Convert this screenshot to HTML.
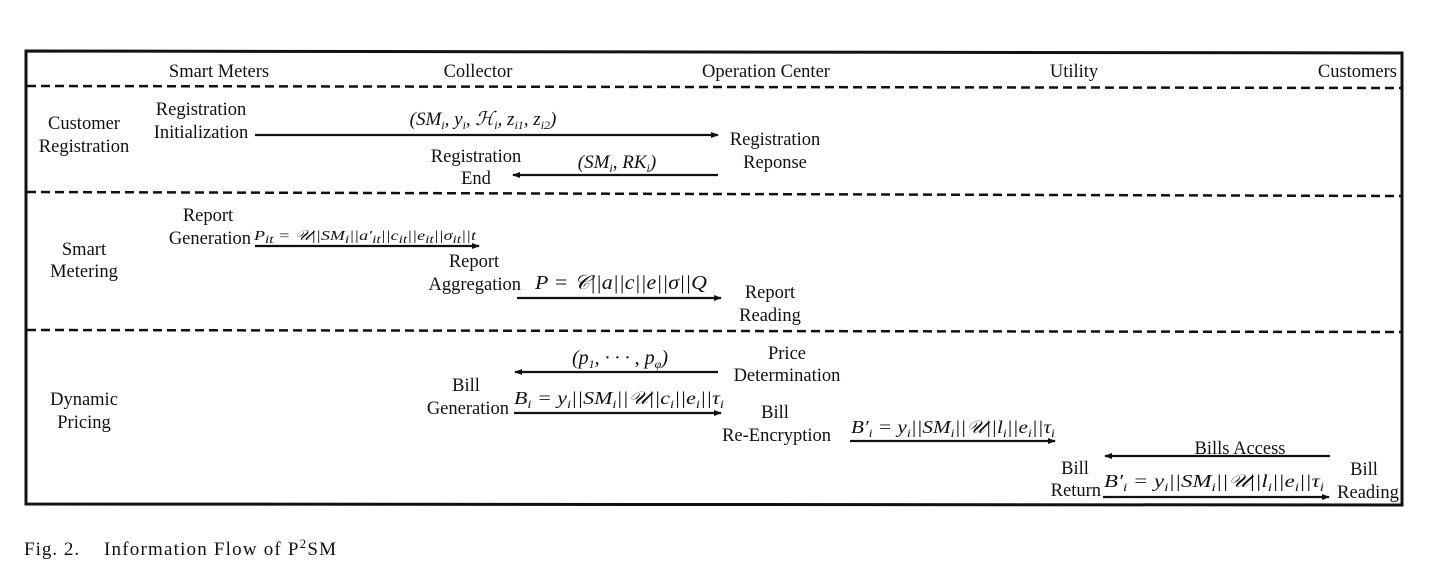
<!DOCTYPE html>
<html><head><meta charset="utf-8"><style>
html,body{margin:0;padding:0;background:#fff;}
svg{display:block;}
text{font-family:"Liberation Serif",serif;font-size:18.5px;fill:#111;}
.m{font-style:italic;font-size:18px;}
.s{font-size:12px;}
</style></head><body>
<svg width="1429" height="574" viewBox="0 0 1429 574" xmlns="http://www.w3.org/2000/svg">
<defs><marker id="a" markerWidth="8" markerHeight="8" refX="7" refY="4" orient="auto" markerUnits="userSpaceOnUse"><path d="M0,1 L8,4 L0,7 z" fill="#111"/></marker></defs>
<path d="M26,51 L1402,53 L1402,505 L26,504 Z" fill="none" stroke="#111" stroke-width="3"/>
<g stroke="#111" stroke-width="2.5" stroke-dasharray="9,5">
<line x1="27" y1="86" x2="1401" y2="88"/>
<line x1="27" y1="192" x2="1401" y2="196"/>
<line x1="27" y1="330" x2="1401" y2="332"/>
</g>
<text x="219" y="77" text-anchor="middle">Smart Meters</text>
<text x="478" y="77" text-anchor="middle">Collector</text>
<text x="766" y="77" text-anchor="middle">Operation Center</text>
<text x="1074" y="77" text-anchor="middle">Utility</text>
<text x="1397" y="77" text-anchor="end">Customers</text>
<text x="84" y="129" text-anchor="middle">Customer</text>
<text x="84" y="152" text-anchor="middle">Registration</text>
<text x="84" y="255" text-anchor="middle">Smart</text>
<text x="84" y="277" text-anchor="middle">Metering</text>
<text x="84" y="405" text-anchor="middle">Dynamic</text>
<text x="84" y="428" text-anchor="middle">Pricing</text>
<g stroke="#111" stroke-width="2.2" marker-end="url(#a)">
<line x1="255" y1="135" x2="718" y2="135"/>
<line x1="718" y1="175" x2="513" y2="175"/>
<line x1="255" y1="246" x2="479" y2="246"/>
<line x1="517" y1="298" x2="721" y2="298"/>
<line x1="718" y1="372" x2="515" y2="372"/>
<line x1="514" y1="413" x2="721" y2="413"/>
<line x1="850" y1="441" x2="1055" y2="441"/>
<line x1="1330" y1="456" x2="1105" y2="456"/>
<line x1="1103" y1="497" x2="1329" y2="497"/>
</g>
<text x="201" y="115" text-anchor="middle">Registration</text>
<text x="201" y="138" text-anchor="middle">Initialization</text>
<text x="483" y="125" text-anchor="middle" class="m" style="font-size:19px">(SM<tspan class="s" dy="4">i</tspan><tspan dy="-4">, y</tspan><tspan class="s" dy="4">i</tspan><tspan dy="-4">, ℋ</tspan><tspan class="s" dy="4">i</tspan><tspan dy="-4">, z</tspan><tspan class="s" dy="4">i1</tspan><tspan dy="-4">, z</tspan><tspan class="s" dy="4">i2</tspan><tspan dy="-4">)</tspan></text>
<text x="775" y="145" text-anchor="middle">Registration</text>
<text x="775" y="168" text-anchor="middle">Reponse</text>
<text x="476" y="162" text-anchor="middle">Registration</text>
<text x="476" y="184" text-anchor="middle">End</text>
<text x="617" y="168" text-anchor="middle" class="m" style="font-size:19px">(SM<tspan class="s" dy="4">i</tspan><tspan dy="-4">, RK</tspan><tspan class="s" dy="4">i</tspan><tspan dy="-4">)</tspan></text>
<text x="208" y="221" text-anchor="middle">Report</text>
<text x="251" y="244" text-anchor="end">Generation</text>
<text x="254" y="240" class="m" style="font-size:14px" textLength="222" lengthAdjust="spacingAndGlyphs">P<tspan class="s" dy="3">it</tspan><tspan dy="-3"> = 𝒰||SM</tspan><tspan class="s" dy="3">i</tspan><tspan dy="-3">||a′</tspan><tspan class="s" dy="3">it</tspan><tspan dy="-3">||c</tspan><tspan class="s" dy="3">it</tspan><tspan dy="-3">||e</tspan><tspan class="s" dy="3">it</tspan><tspan dy="-3">||σ</tspan><tspan class="s" dy="3">it</tspan><tspan dy="-3">||t</tspan></text>
<text x="474" y="267" text-anchor="middle">Report</text>
<text x="521" y="290" text-anchor="end">Aggregation</text>
<text x="535" y="289" class="m" style="font-size:20px" textLength="172" lengthAdjust="spacingAndGlyphs">P = 𝒞||a||c||e||σ||Q</text>
<text x="770" y="298" text-anchor="middle">Report</text>
<text x="770" y="321" text-anchor="middle">Reading</text>
<text x="787" y="359" text-anchor="middle">Price</text>
<text x="787" y="381" text-anchor="middle">Determination</text>
<text x="620" y="364" text-anchor="middle" class="m" style="font-size:20px">(p<tspan class="s" dy="4">1</tspan><tspan dy="-4">, · · · , p</tspan><tspan class="s" dy="4">φ</tspan><tspan dy="-4">)</tspan></text>
<text x="466" y="391" text-anchor="middle">Bill</text>
<text x="509" y="414" text-anchor="end">Generation</text>
<text x="514" y="404" class="m" textLength="210" lengthAdjust="spacingAndGlyphs">B<tspan class="s" dy="4">i</tspan><tspan dy="-4"> = y</tspan><tspan class="s" dy="4">i</tspan><tspan dy="-4">||SM</tspan><tspan class="s" dy="4">i</tspan><tspan dy="-4">||𝒰||c</tspan><tspan class="s" dy="4">i</tspan><tspan dy="-4">||e</tspan><tspan class="s" dy="4">i</tspan><tspan dy="-4">||τ</tspan><tspan class="s" dy="4">i</tspan></text>
<text x="775" y="418" text-anchor="middle">Bill</text>
<text x="831" y="441" text-anchor="end">Re-Encryption</text>
<text x="851" y="433" class="m" textLength="204" lengthAdjust="spacingAndGlyphs">B′<tspan class="s" dy="4">i</tspan><tspan dy="-4"> = y</tspan><tspan class="s" dy="4">i</tspan><tspan dy="-4">||SM</tspan><tspan class="s" dy="4">i</tspan><tspan dy="-4">||𝒰||l</tspan><tspan class="s" dy="4">i</tspan><tspan dy="-4">||e</tspan><tspan class="s" dy="4">i</tspan><tspan dy="-4">||τ</tspan><tspan class="s" dy="4">i</tspan></text>
<text x="1240" y="454" text-anchor="middle">Bills Access</text>
<text x="1075" y="474" text-anchor="middle">Bill</text>
<text x="1101" y="496" text-anchor="end">Return</text>
<text x="1104" y="487" class="m" textLength="220" lengthAdjust="spacingAndGlyphs">B′<tspan class="s" dy="4">i</tspan><tspan dy="-4"> = y</tspan><tspan class="s" dy="4">i</tspan><tspan dy="-4">||SM</tspan><tspan class="s" dy="4">i</tspan><tspan dy="-4">||𝒰||l</tspan><tspan class="s" dy="4">i</tspan><tspan dy="-4">||e</tspan><tspan class="s" dy="4">i</tspan><tspan dy="-4">||τ</tspan><tspan class="s" dy="4">i</tspan></text>
<text x="1364" y="475" text-anchor="middle">Bill</text>
<text x="1368" y="498" text-anchor="middle">Reading</text>
<text x="24" y="555" style="font-size:19px;letter-spacing:1px">Fig. 2.</text>
<text x="104" y="555" style="font-size:19px;letter-spacing:1.2px">Information Flow of P<tspan style="font-size:13px" dy="-7">2</tspan><tspan dy="7">SM</tspan></text>
</svg>
</body></html>
